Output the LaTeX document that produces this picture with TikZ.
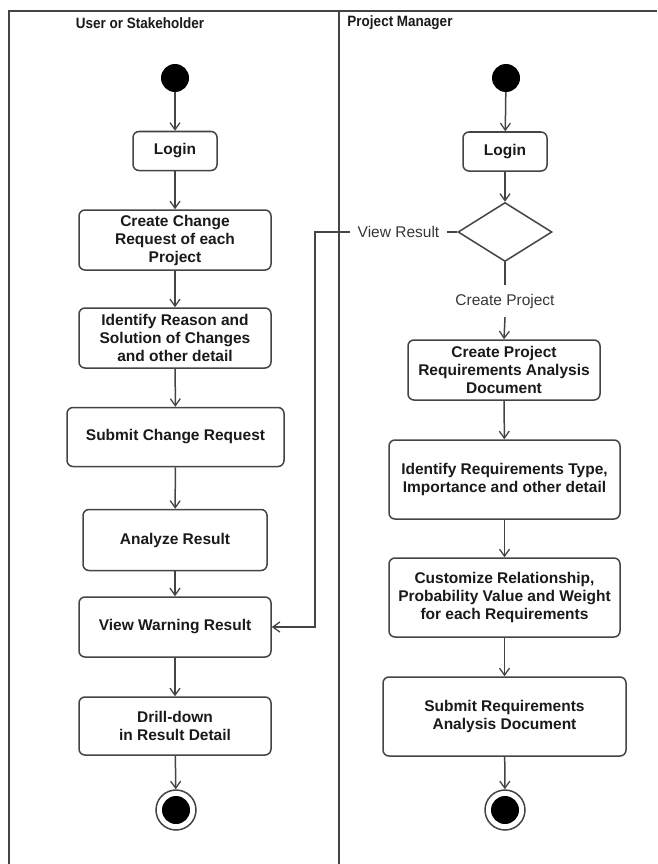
\documentclass[tikz,border=0pt]{standalone}
\usepackage{fontspec}
\setmainfont{Liberation Sans}
\newfontfamily\laneheadfont[FakeStretch=0.9]{Liberation Sans}
\usetikzlibrary{arrows.meta,shapes.geometric}

\definecolor{ink}{HTML}{1A1A1A}
\definecolor{edge}{HTML}{444444}

\tikzset{
  lane/.style={draw=edge, line width=1.5pt},
  lanehead/.style={font=\laneheadfont\fontsize{15}{17}\selectfont\bfseries, text=ink},
  startdot/.style={circle, fill=black, minimum size=28pt, inner sep=0pt},
  enddot/.style={circle, draw=edge, line width=1.5pt, fill=white, minimum size=40pt, inner sep=0pt,
    path picture={\fill[black] (path picture bounding box.center) circle (14pt);}},
  action/.style={rectangle, rounded corners=6pt, draw=edge, line width=1.5pt, fill=white,
    align=center, inner sep=0pt, text=ink, font=\fontsize{15.5}{18}\selectfont\bfseries},
  choice/.style={diamond, draw=edge, line width=1.5pt, inner sep=0pt, aspect=1.6},
  guard/.style={text=edge!80!black, font=\fontsize{15.5}{18}\selectfont, inner ysep=0pt},
  flow/.style={draw=edge, line width=1.5pt, -{Straight Barb[length=7pt,width=10pt,line width=1.3pt]}},
  plain/.style={draw=edge, line width=1.5pt},
}

\begin{document}
\begin{tikzpicture}[x=1pt,y=-1pt]
\useasboundingbox (0,0) rectangle (657,864);

% swimlane frame
\draw[lane] (8,11) -- (657,11);
\draw[lane] (9,11) -- (9,864);
\draw[lane] (339,11) -- (339,864);
\node[lanehead] (h1) at (140,23) {User or Stakeholder};
\node[lanehead] (h2) at (400,23) {Project Manager};

% left lane: user or stakeholder
\node[startdot] (s1) at (175,78) {};
\node[action, minimum width=84pt, minimum height=39pt] (l1) at (175,151) {Login};
\node[action, minimum width=192pt, minimum height=60pt] (l2) at (175,240) {Create Change\\Request of each\\Project};
\node[action, minimum width=192pt, minimum height=60pt] (l3) at (175,338) {Identify Reason and\\Solution of Changes\\and other detail};
\node[action, minimum width=217pt, minimum height=59pt] (l4) at (175.5,437) {Submit Change Request};
\node[action, minimum width=184pt, minimum height=61pt] (l5) at (175,540) {Analyze Result};
\node[action, minimum width=192pt, minimum height=60pt] (l6) at (175,627) {View Warning Result};
\node[action, minimum width=192pt, minimum height=58pt] (l7) at (175,726) {Drill-down\\in Result Detail};
\node[enddot] (e1) at (176,810) {};

\draw[flow] (s1) -- (l1);
\draw[flow] (l1) -- (l2);
\draw[flow] (l2) -- (l3);
\draw[flow] (l3) -- (l4);
\draw[flow] (l4) -- (l5);
\draw[flow] (l5) -- (l6);
\draw[flow] (l6) -- (l7);
\draw[flow] (l7) -- (e1);

% right lane: project manager
\node[startdot] (s2) at (506,78) {};
\node[action, minimum width=84pt, minimum height=39pt] (r1) at (505,151.5) {Login};
\node[choice, minimum width=94pt, minimum height=59pt] (d) at (505,232) {};
\node[guard, minimum height=32pt] (cp) at (505,301) {Create Project};
\node[action, minimum width=192pt, minimum height=60pt] (r2) at (504,370) {Create Project\\Requirements Analysis\\Document};
\node[action, minimum width=231pt, minimum height=79pt] (r3) at (504.5,479.5) {Identify Requirements Type,\\Importance and other detail};
\node[action, minimum width=231pt, minimum height=79pt] (r4) at (504.5,597.5) {Customize Relationship,\\Probability Value and Weight\\for each Requirements};
\node[action, minimum width=243pt, minimum height=79pt] (r5) at (504.5,716.5) {Submit Requirements\\Analysis Document};
\node[enddot] (e2) at (505,810) {};

\draw[flow] (s2) -- (r1);
\draw[flow] (r1) -- (d);
\draw[plain] (d.south) -- (cp.north);
\draw[flow] (cp.south) -- (r2.north);
\draw[flow] (r2) -- (r3);
\draw[flow] (r3) -- (r4);
\draw[flow] (r4) -- (r5);
\draw[flow] (r5) -- (e2);

% branch back to the warning view
\node[guard, inner xsep=7.5pt] (vr) at (398.5,232) {View Result};
\coordinate (bend) at (315,232);
\draw[plain] (d.west) -- (vr.east);
\draw[flow] (vr.west) -- (bend) |- (l6.east);
\end{tikzpicture}
\end{document}
